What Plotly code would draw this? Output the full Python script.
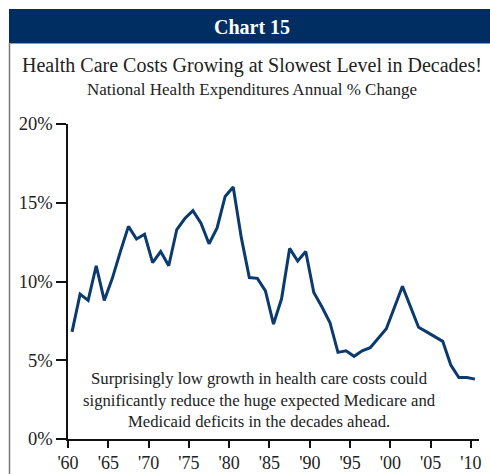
import plotly.graph_objects as go

# Data
years = list(range(1961, 2012))
growth = [6.8, 9.2, 8.8, 11.0, 8.8, 10.2, 11.9, 13.5, 12.7, 13.0,
          11.2, 11.9, 11.0, 13.3, 14.0, 14.5, 13.7, 12.4, 13.4, 15.4,
          16.0, 12.8, 10.25, 10.2, 9.4, 7.3, 8.9, 12.1, 11.3, 11.9,
          9.3, 8.4, 7.4, 5.5, 5.6, 5.25, 5.6, 5.8, 6.4, 7.0,
          8.35, 9.7, 8.4, 7.1, 6.8, 6.5, 6.2, 4.7, 3.9, 3.9, 3.8]
x_tick_vals = list(range(1960, 2011, 5))
x_tick_text = ["'60", "'65", "'70", "'75", "'80", "'85", "'90", "'95", "'00", "'05", "'10"]
y_tick_vals = [0, 5, 10, 15, 20]
y_tick_text = ["0%", "5%", "10%", "15%", "20%"]

FONT = "Liberation Serif, 'Times New Roman', 'DejaVu Serif', serif"
NAVY = "#002d62"
LINE = "#0b3a6e"
TXT = "#222222"

W, H = 490, 474
L, R, T, B = 68, 11, 124, 35
PW, PH = W - L - R, H - T - B

def px(xp):
    return (xp - L) / PW

def py(yp):
    return (H - B - yp) / PH

fig = go.Figure()
fig.add_trace(go.Scatter(
    x=[y - 0.5 for y in years], y=growth, mode="lines",
    line=dict(color=LINE, width=3), hoverinfo="skip", showlegend=False))

# header bar
fig.add_shape(type="rect", xref="paper", yref="paper",
              x0=px(9), x1=px(492), y0=py(43), y1=py(9),
              fillcolor=NAVY, line=dict(width=0), layer="below")
# frame left border
fig.add_shape(type="line", xref="paper", yref="paper",
              x0=px(9.5), x1=px(9.5), y0=py(476), y1=py(43),
              line=dict(color="#777777", width=1.5))
# thin frame top under header
fig.add_shape(type="line", xref="paper", yref="paper",
              x0=px(9), x1=px(492), y0=py(43.5), y1=py(43.5),
              line=dict(color="#9a9a9a", width=1))

fig.add_annotation(text="<b>Chart 15</b>", xref="paper", yref="paper",
                   x=px(252), y=py(27), showarrow=False,
                   font=dict(family=FONT, size=20, color="white"),
                   xanchor="center", yanchor="middle")
fig.add_annotation(text="Health Care Costs Growing at Slowest Level in Decades!",
                   xref="paper", yref="paper", x=px(252), y=py(65), showarrow=False,
                   font=dict(family=FONT, size=20, color=TXT),
                   xanchor="center", yanchor="middle")
fig.add_annotation(text="National Health Expenditures Annual % Change",
                   xref="paper", yref="paper", x=px(251.5), y=py(90), showarrow=False,
                   font=dict(family=FONT, size=17, color=TXT),
                   xanchor="center", yanchor="middle")
fig.add_annotation(text="Surprisingly low growth in health care costs could<br>"
                        "significantly reduce the huge expected Medicare and<br>"
                        "Medicaid deficits in the decades ahead.",
                   xref="paper", yref="paper", x=px(259.5), y=py(400), showarrow=False,
                   font=dict(family=FONT, size=16.7, color=TXT), align="center",
                   xanchor="center", yanchor="middle")

fig.update_layout(
    template="none",
    width=W, height=H,
    margin=dict(l=L, r=R, t=T, b=B, pad=0, autoexpand=False),
    paper_bgcolor="white", plot_bgcolor="white",
    font=dict(family=FONT, size=18, color=TXT),
    xaxis=dict(range=[1960, 2011], tickvals=x_tick_vals, ticktext=x_tick_text,
               automargin=False,
               showgrid=False, zeroline=False, showline=True, linecolor="#111111",
               linewidth=1.5, ticks="outside", ticklen=7, tickwidth=1.5,
               tickcolor="#111111", tickfont=dict(family=FONT, size=18, color=TXT)),
    yaxis=dict(range=[0, 20], tickvals=y_tick_vals, ticktext=y_tick_text,
               automargin=False,
               showgrid=False, zeroline=False, showline=True, linecolor="#111111",
               linewidth=1.5, ticks="outside", ticklen=10, tickwidth=1.5,
               tickcolor="#111111", tickfont=dict(family=FONT, size=18.5, color=TXT)),
)

fig.write_html("out.html", config={"displayModeBar": False},
               post_script="document.body.style.margin='0';")
